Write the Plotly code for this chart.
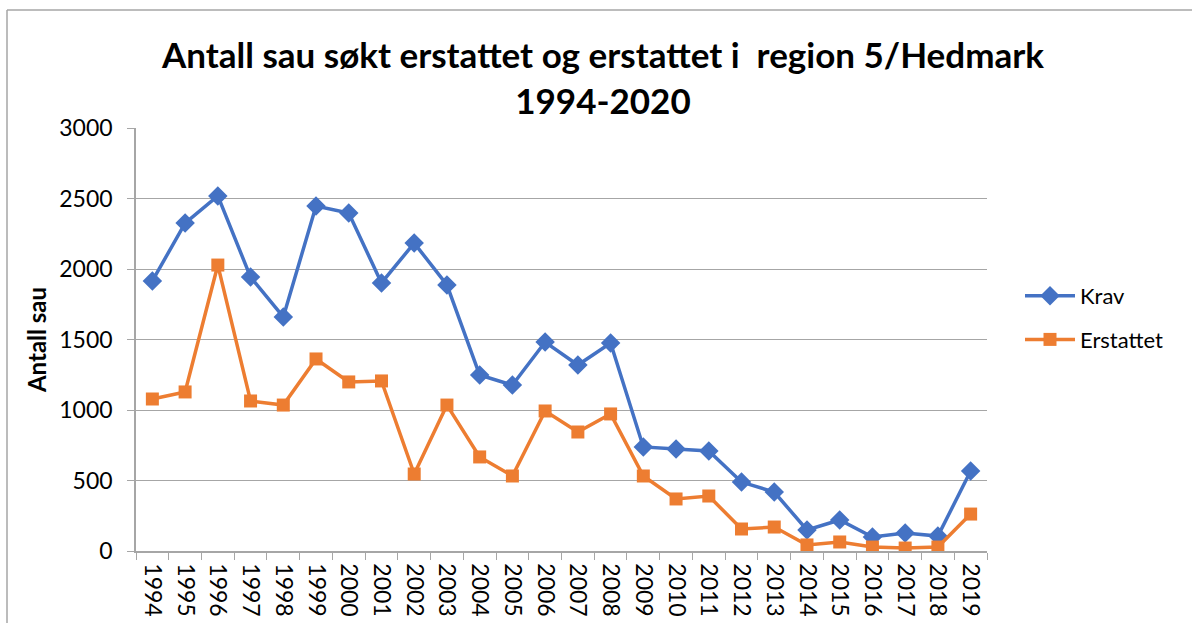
import plotly.graph_objects as go

years = [str(y) for y in range(1994, 2020)]
krav = [1915, 2326, 2518, 1943, 1660, 2447, 2397, 1901, 2184, 1887, 1248, 1177, 1482,
        1319, 1475, 738, 723, 709, 489, 418, 149, 220, 99, 128, 106, 567]
erstattet = [1078, 1128, 2028, 1064, 1035, 1362, 1199, 1206, 546, 1035, 667, 532, 993,
             844, 972, 532, 369, 390, 156, 170, 43, 64, 28, 21, 28, 262]

FONT = "Lato"

fig = go.Figure()
fig.add_trace(go.Scatter(x=years, y=krav, name="Krav", mode="lines+markers", legendgroup="a",
                         line=dict(color="#4472C4", width=3.5),
                         marker=dict(symbol="diamond", size=15, color="#4472C4")))
fig.add_trace(go.Scatter(x=years, y=erstattet, name="Erstattet", mode="lines+markers", legendgroup="b",
                         line=dict(color="#ED7D31", width=3.5),
                         marker=dict(symbol="square", size=13, color="#ED7D31")))

L, R, T, B = 136, 205, 128, 72
W, H = 1192, 623
pw, ph = W - L - R, H - T - B

def px(x):
    return (x - L) / pw

def py(y):
    return (H - B - y) / ph

fig.add_shape(type="line", xref="paper", yref="paper", x0=px(7), x1=px(7), y0=py(640), y1=py(10),
              line=dict(color="#a6a6a6", width=1.5))
fig.add_shape(type="line", xref="paper", yref="paper", x0=px(7), x1=px(1200), y0=py(10), y1=py(10),
              line=dict(color="#a6a6a6", width=1.5))

fig.update_layout(
    width=W, height=H,
    margin=dict(l=L, r=R, t=T, b=B, autoexpand=False),
    paper_bgcolor="white", plot_bgcolor="white",
    font=dict(family=FONT, color="black"),
    title=dict(text="<b>Antall sau søkt erstattet og erstattet i  region 5/Hedmark<br>1994-2020</b>",
               x=603 / W, xanchor="center", y=1 - 68 / H, yanchor="middle",
               font=dict(size=35, family=FONT, color="black")),
    legend=dict(x=px(1020), y=py(318), xanchor="left", yanchor="middle",
                font=dict(size=22, family=FONT), itemwidth=50, tracegroupgap=12,
                bgcolor="rgba(0,0,0,0)"),
    xaxis=dict(type="category", range=[-0.5, len(years) - 0.5], tickangle=90,
               tickson="boundaries", ticks="outside",
               ticklen=7, tickcolor="#a6a6a6", showline=True, linecolor="#a6a6a6",
               linewidth=1.5, showgrid=False, tickfont=dict(size=23, family=FONT),
               ticklabelstandoff=6, automargin=False),
    yaxis=dict(range=[0, 3000], dtick=500, ticks="outside", ticklen=7, tickcolor="#a6a6a6",
               showline=True, linecolor="#a6a6a6", linewidth=1.5, gridcolor="#a6a6a6",
               gridwidth=1.2, tickfont=dict(size=23, family=FONT), automargin=False,
               zeroline=False, ticklabelstandoff=10,
               title=dict(text="<b>Antall sau</b>", font=dict(size=24, family=FONT), standoff=6)),
)

fig.write_html("out.html", config={"displayModeBar": False},
               post_script="document.body.style.margin='0';document.body.style.overflow='hidden';")
